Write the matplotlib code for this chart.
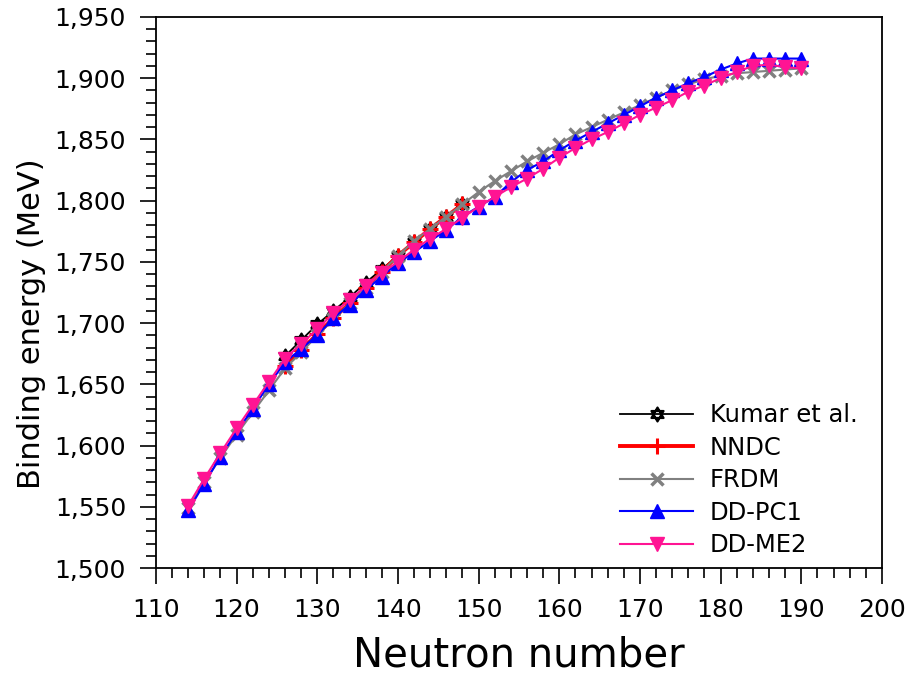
import matplotlib
matplotlib.use("Agg")
import matplotlib.pyplot as plt
from matplotlib.path import Path
from matplotlib.ticker import MultipleLocator, FuncFormatter

# neutron numbers
n_full = list(range(114, 192, 2))       # 114 .. 190
n_short = list(range(126, 150, 2))      # 126 .. 148

kumar = [1673, 1686, 1699, 1710, 1721, 1733, 1744, 1755, 1766, 1777, 1787, 1797]
nndc = [1665, 1678, 1691, 1704, 1716, 1729, 1742, 1755, 1766, 1777, 1787, 1797]

frdm = [1549, 1570, 1590, 1609, 1627, 1645, 1663, 1676, 1690, 1703, 1716, 1729, 1742,
        1755, 1767, 1777, 1787, 1797, 1807, 1816, 1824, 1832, 1839, 1846, 1854, 1860,
        1866, 1872, 1878, 1884, 1890, 1895, 1899, 1902, 1904, 1905, 1906, 1907, 1908]

dd_pc1 = [1547, 1569, 1591, 1611, 1630, 1650, 1668, 1679, 1690, 1704, 1715, 1727, 1738,
          1749, 1758, 1767, 1776, 1787, 1795, 1803, 1815, 1825, 1832, 1841, 1849, 1856,
          1863, 1870, 1877, 1884, 1890, 1896, 1901, 1907, 1912, 1916, 1916, 1916, 1916]

dd_me2 = [1551, 1573, 1594, 1614, 1633, 1652, 1671, 1683, 1695, 1708, 1719, 1730, 1741,
          1750, 1760, 1769, 1777, 1786, 1795, 1803, 1811, 1818, 1826, 1835, 1843, 1850,
          1856, 1863, 1870, 1876, 1882, 1889, 1894, 1900, 1905, 1910, 1911, 1909, 1908]

# star of David marker: two outlined triangles
star_verts = [(0, 1), (-0.866, -0.5), (0.866, -0.5), (0, 1),
              (0, -1), (-0.866, 0.5), (0.866, 0.5), (0, -1)]
star_codes = [Path.MOVETO, Path.LINETO, Path.LINETO, Path.CLOSEPOLY] * 2
star = Path(star_verts, star_codes)

fig = plt.figure(figsize=(9.12, 6.77), dpi=100)
ax = fig.add_axes([0.171, 0.161, 0.796, 0.814])

ax.plot(n_short, kumar, color='black', lw=1.3, marker=star, ms=10,
        mfc='none', mec='black', mew=1.6, label='Kumar et al.')
ax.plot(n_short, nndc, color='red', lw=2.8, marker='+', ms=11, mew=2.2, label='NNDC')
ax.plot(n_full, frdm, color='gray', lw=1.5, marker='x', ms=8, mew=2.5, label='FRDM')
ax.plot(n_full, dd_pc1, color='blue', lw=1.5, marker='^', ms=10, label='DD-PC1')
ax.plot(n_full, dd_me2, color='#FF1493', lw=1.5, marker='v', ms=10, label='DD-ME2')

ax.set_xlim(110, 200)
ax.set_ylim(1500, 1950)
ax.xaxis.set_major_locator(MultipleLocator(10))
ax.xaxis.set_minor_locator(MultipleLocator(2))
ax.yaxis.set_major_locator(MultipleLocator(50))
ax.yaxis.set_minor_locator(MultipleLocator(10))
ax.yaxis.set_major_formatter(FuncFormatter(lambda v, p: f"{int(v):,}"))

ax.tick_params(which='major', direction='out', length=11.5, width=1.2, labelsize=18, pad=10)
ax.tick_params(which='minor', direction='out', length=7, width=1.2)
for s in ax.spines.values():
    s.set_linewidth(1.3)

ax.set_xlabel('Neutron number', fontsize=29, labelpad=10)
ax.set_ylabel('Binding energy (MeV)', fontsize=22)
ax.yaxis.set_label_coords(-0.151, 0.444)

ax.legend(loc='lower right', bbox_to_anchor=(0.997, -0.02), frameon=False, fontsize=17.5,
          handlelength=3.0, handletextpad=0.7, labelspacing=0.35)

fig.savefig('out.png', dpi=100)
